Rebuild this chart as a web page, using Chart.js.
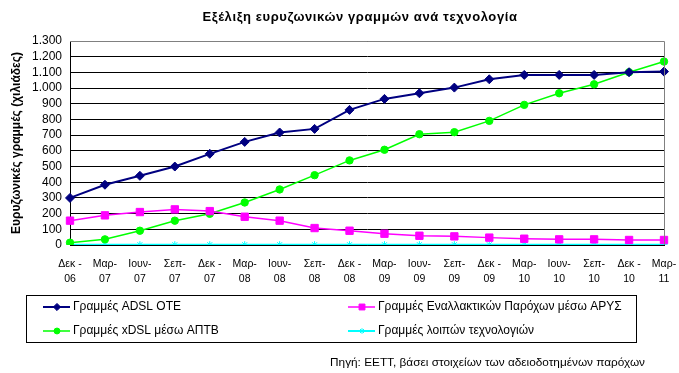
<!DOCTYPE html>
<html>
<head>
<meta charset="utf-8">
<script src="https://cdn.jsdelivr.net/npm/chart.js@4/dist/chart.umd.min.js"></script>
<style>
html,body{margin:0;padding:0;background:#fff;}
#wrap{position:relative;width:679px;height:373px;}
</style>
</head>
<body>
<div id="wrap"><canvas id="c" width="679" height="373"></canvas></div>
<script>
const categories = [["Δεκ -","06"],["Μαρ-","07"],["Ιουν-","07"],["Σεπ-","07"],["Δεκ -","07"],["Μαρ-","08"],["Ιουν-","08"],["Σεπ-","08"],["Δεκ -","08"],["Μαρ-","09"],["Ιουν-","09"],["Σεπ-","09"],["Δεκ -","09"],["Μαρ-","10"],["Ιουν-","10"],["Σεπ-","10"],["Δεκ -","10"],["Μαρ-","11"]];
const adslOTE = [300,384,441,500,581,657,717,740,861,931,967,1003,1056,1084,1084,1084,1101,1105];
const altAPYS = [155,189,210,227,216,180,155,108,91,72,59,55,47,40,36,36,32,32];
const xdslAPTB = [15,36,91,155,199,271,354,445,539,607,706,719,791,893,967,1024,1101,1169];
const otherTech = [2,2,2,2,2,2,2,2,2,2,2,2,2,2,2,2,2,2];
const seriesNames = ["Γραμμές ADSL OTE","Γραμμές Εναλλακτικών Παρόχων μέσω ΑΡΥΣ","Γραμμές xDSL μέσω ΑΠΤΒ","Γραμμές λοιπών τεχνολογιών"];
const titleText = "Εξέλιξη ευρυζωνικών γραμμών ανά τεχνολογία";
const yTitle = "Ευρυζωνικές γραμμές (χιλιάδες)";
const sourceText = "Πηγή: ΕΕΤΤ, βάσει στοιχείων των αδειοδοτημένων παρόχων";

const FONT = "Arial, 'Liberation Sans', sans-serif";

const decor = {
  id: 'decor',
  afterDraw(chart) {
    const ctx = chart.ctx;
    const a = chart.chartArea;
    ctx.save();
    // plot border top/right gray
    ctx.strokeStyle = '#808080';
    ctx.lineWidth = 1;
    ctx.beginPath();
    ctx.moveTo(a.left, a.top + 0.5);
    ctx.lineTo(a.right + 0.5, a.top + 0.5);
    ctx.lineTo(a.right + 0.5, a.bottom);
    ctx.stroke();
    // title
    ctx.fillStyle = '#000';
    ctx.font = "bold 13px " + FONT;
    ctx.letterSpacing = '0.6px';
    ctx.textAlign = 'center';
    ctx.textBaseline = 'middle';
    ctx.fillText(titleText, 360, 17);
    ctx.letterSpacing = '0px';
    // legend box
    ctx.strokeStyle = '#000';
    ctx.strokeRect(26.5, 295.5, 610, 47);
    const items = [
      {ds:0, x:43, y:307},
      {ds:2, x:43, y:331},
      {ds:1, x:348, y:307},
      {ds:3, x:348, y:331}
    ];
    ctx.font = "12px " + FONT;
    ctx.textAlign = 'left';
    items.forEach(it => {
      const d = chart.data.datasets[it.ds];
      ctx.strokeStyle = d.borderColor;
      ctx.lineWidth = d.borderWidth;
      ctx.beginPath();
      ctx.moveTo(it.x, it.y);
      ctx.lineTo(it.x + 27, it.y);
      ctx.stroke();
      ctx.fillStyle = d.pointBackgroundColor;
      ctx.strokeStyle = d.pointBorderColor;
      ctx.lineWidth = 1;
      Chart.helpers.drawPoint(ctx, {pointStyle: d.pointStyle, radius: d.pointRadius * 0.8, rotation: 0, borderWidth: 1}, it.x + 14, it.y);
      ctx.fillStyle = '#000';
      ctx.fillText(d.label, it.x + 30, it.y);
    });
    // source
    ctx.font = "11.8px " + FONT;
    ctx.textAlign = 'right';
    ctx.fillText(sourceText, 645, 363);
    ctx.restore();
  }
};

new Chart(document.getElementById('c'), {
  type: 'line',
  data: {
    labels: categories,
    datasets: [
      {label: seriesNames[0], data: adslOTE, borderColor:'#000080', backgroundColor:'#000080', pointBackgroundColor:'#000080', pointBorderColor:'#000080', borderWidth:2, pointStyle:'rectRot', pointRadius:4.5, pointBorderWidth:1, tension:0},
      {label: seriesNames[1], data: altAPYS, borderColor:'#FF00FF', backgroundColor:'#FF00FF', pointBackgroundColor:'#FF00FF', pointBorderColor:'#FF00FF', borderWidth:1.5, pointStyle:'rect', pointRadius:5.2, pointBorderWidth:1, tension:0},
      {label: seriesNames[2], data: xdslAPTB, borderColor:'#00FF00', backgroundColor:'#00FF00', pointBackgroundColor:'#00FF00', pointBorderColor:'#00FF00', borderWidth:1.5, pointStyle:'circle', pointRadius:3.7, pointBorderWidth:1, tension:0},
      {label: seriesNames[3], data: otherTech, borderColor:'#00FFFF', backgroundColor:'#00FFFF', pointBackgroundColor:'#00FFFF', pointBorderColor:'#00FFFF', borderWidth:2, pointStyle:'star', pointRadius:3.5, pointBorderWidth:1, tension:0}
    ]
  },
  options: {
    responsive: false,
    animation: false,
    layout: {padding: {top: 41, right: 15, bottom: 88, left: 0}},
    plugins: {legend: {display:false}, title: {display:false}, tooltip:{enabled:false}},
    scales: {
      x: {
        offset: false,
        grid: {display:false, drawTicks:false},
        border: {display:true, color:'#000', width:1},
        ticks: {color:'#000', font:{family:FONT, size:10.5, lineHeight:1.45}, padding:11, maxRotation:0, autoSkip:false},
        afterFit(s){ s.height = 40; s.paddingLeft = 0; s.paddingRight = 0; }
      },
      y: {
        min: 0, max: 1300,
        grid: {color:'#000', lineWidth:1, drawTicks:false},
        border: {display:true, color:'#000', width:1},
        ticks: {stepSize:100, autoSkip:false, color:'#000', font:{family:FONT, size:12}, padding:8,
          callback: v => v.toLocaleString('de-DE')},
        title: {display:true, text:yTitle, color:'#000', font:{family:FONT, size:12, weight:'bold'}, padding:{top:9, bottom:0}},
        afterFit(s){ s.width = 70; s.paddingTop = 0; s.paddingBottom = 0; }
      }
    }
  },
  plugins: [decor]
});
</script>
</body>
</html>
